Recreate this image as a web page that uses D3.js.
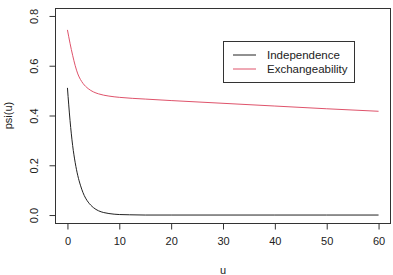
<!DOCTYPE html>
<html>
<head>
<meta charset="utf-8">
<script src="https://cdn.jsdelivr.net/npm/d3@7"></script>
<style>
html,body{margin:0;padding:0;background:#fff;}
svg{display:block;}
text{font-family:"Liberation Sans",Arial,Helvetica,sans-serif;fill:#222;}
</style>
</head>
<body>
<svg id="chart" width="393" height="275"></svg>
<script>
// Data
const uIndep   = [0, 0.5, 1, 1.5, 2, 2.5, 3, 3.5, 4, 5, 6, 7, 8, 10, 12, 15, 20, 30, 40, 50, 60];
const psiIndep = [0.511, 0.38, 0.28, 0.21, 0.158, 0.12, 0.09, 0.068, 0.052, 0.03, 0.017, 0.01, 0.006, 0.002, 0.001, 0, 0, 0, 0, 0, 0];
const uExch    = [0, 0.5, 1, 1.5, 2, 2.5, 3, 4, 5, 6, 8, 10, 15, 20, 30, 40, 50, 60];
const psiExch  = [0.744, 0.69, 0.642, 0.6, 0.567, 0.545, 0.529, 0.508, 0.495, 0.487, 0.478, 0.473, 0.466, 0.46, 0.449, 0.438, 0.427, 0.417];
const xTicks = [0, 10, 20, 30, 40, 50, 60];
const yTicks = [0.0, 0.2, 0.4, 0.6, 0.8];
const seriesNames = ["Independence", "Exchangeability"];
const seriesColors = ["#222222", "#DF536B"];

const svg = d3.select("#chart");
const L = 55, R = 391, T = 8, B = 223;
const x = d3.scaleLinear().domain([-2.4, 62.4]).range([L, R]);
const y = d3.scaleLinear().domain([-0.032, 0.832]).range([B, T]);

// box
svg.append("rect").attr("x", L + 0.5).attr("y", T + 0.5)
  .attr("width", R - L - 1).attr("height", B - T)
  .attr("fill", "none").attr("stroke", "#333").attr("stroke-width", 1);

// x axis
const xa = svg.append("g").attr("transform", `translate(0,${B + 0.5})`)
  .call(d3.axisBottom(x).tickValues(xTicks).tickFormat(d3.format("d")).tickSize(6).tickPadding(8));
xa.select(".domain").attr("d", `M${x(0)},0H${x(60)}`).attr("stroke", "#333");
xa.selectAll(".tick line").attr("stroke", "#333");
xa.selectAll("text").style("font-size", "11px").attr("fill", "#222").style("font-family", "Liberation Sans, Arial, sans-serif");

// y axis
const ya = svg.append("g").attr("transform", `translate(${L + 0.5},0)`)
  .call(d3.axisLeft(y).tickValues(yTicks).tickFormat(d3.format(".1f")).tickSize(6));
ya.select(".domain").attr("d", `M0,${y(0)}V${y(0.8)}`).attr("stroke", "#333");
ya.selectAll(".tick line").attr("stroke", "#333");
ya.selectAll(".tick text")
  .attr("x", 0).attr("dy", 0)
  .attr("transform", "translate(-22,0) rotate(-90)")
  .attr("text-anchor", "middle")
  .attr("dominant-baseline", "central")
  .style("font-size", "11px").attr("fill", "#222").style("font-family", "Liberation Sans, Arial, sans-serif");

// axis titles
svg.append("text").attr("x", x(30)).attr("y", 273.5)
  .attr("text-anchor", "middle").style("font-size", "11px").text("u");
svg.append("text").attr("transform", `translate(12,${(T + B) / 2}) rotate(-90)`)
  .attr("text-anchor", "middle").style("font-size", "11px").text("psi(u)");

// lines
const line = d3.line().x(d => x(d[0])).y(d => y(d[1])).curve(d3.curveMonotoneX);
svg.append("path").datum(uIndep.map((u, i) => [u, psiIndep[i]]))
  .attr("d", line).attr("fill", "none").attr("stroke", seriesColors[0]).attr("stroke-width", 1);
svg.append("path").datum(uExch.map((u, i) => [u, psiExch[i]]))
  .attr("d", line).attr("fill", "none").attr("stroke", seriesColors[1]).attr("stroke-width", 1);

// legend
const lg = svg.append("g");
lg.append("rect").attr("x", 223.5).attr("y", 41.5).attr("width", 131).attr("height", 41)
  .attr("fill", "#fff").attr("stroke", "#333");
seriesNames.forEach((n, i) => {
  const yy = 55 + i * 14;
  lg.append("line").attr("x1", 233).attr("x2", 256).attr("y1", yy).attr("y2", yy)
    .attr("stroke", seriesColors[i]).attr("stroke-width", 1);
  lg.append("text").attr("x", 267).attr("y", yy).attr("dominant-baseline", "central")
    .style("font-size", "11.5px").text(n);
});
</script>
</body>
</html>
